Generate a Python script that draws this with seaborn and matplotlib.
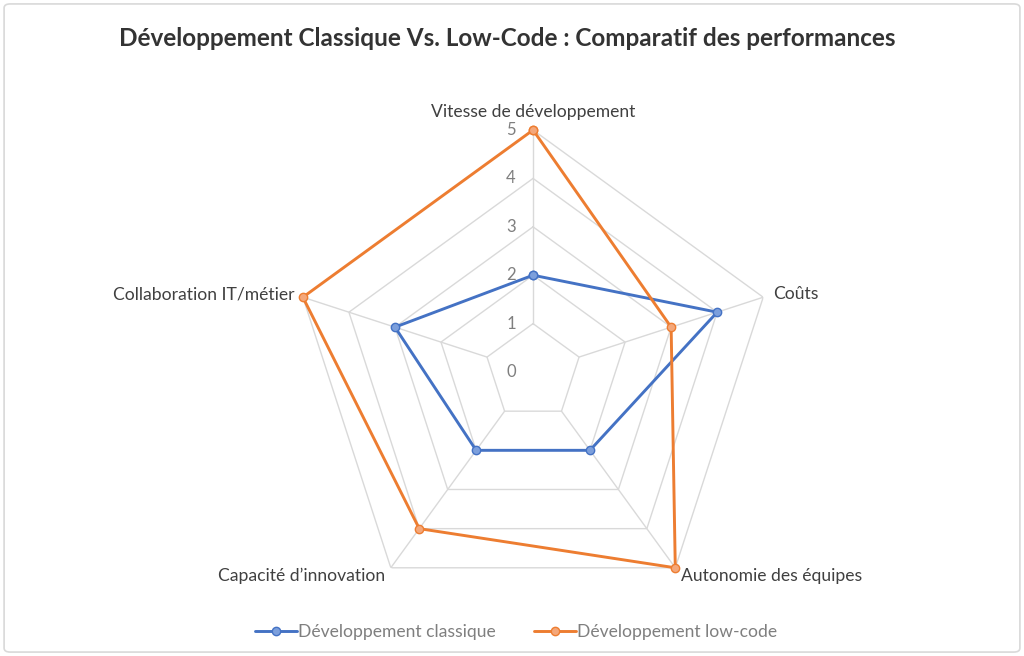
import numpy as np
import pandas as pd
import matplotlib.pyplot as plt
import matplotlib.transforms as mtransforms
from matplotlib.patches import FancyBboxPatch
import seaborn as sns

# données
criteres = ['Vitesse de développement', 'Coûts', 'Autonomie des équipes',
            "Capacité d’innovation", 'Collaboration IT/métier']
classique = [2, 4, 2, 2, 3]
low_code = [5, 3, 5, 4, 5]
series = ['Développement classique', 'Développement low-code']
graduations = [0, 1, 2, 3, 4, 5]

couleurs = {'Développement classique': '#4472C4', 'Développement low-code': '#ED7D31'}
remplissage = {'Développement classique': '#7C9FDC', 'Développement low-code': '#F4A77A'}

sns.set_theme(style='white')
plt.rcParams['font.family'] = ['Lato', 'DejaVu Sans']

n = len(criteres)
angles = np.linspace(0, 2 * np.pi, n, endpoint=False)

# table longue, boucle fermée
lignes = []
for nom, vals in zip(series, [classique, low_code]):
    for i in range(n):
        lignes.append({'serie': nom, 'angle': angles[i], 'valeur': vals[i]})
    lignes.append({'serie': nom, 'angle': 2 * np.pi, 'valeur': vals[0]})
df = pd.DataFrame(lignes)

fig = plt.figure(figsize=(10.24, 6.56), dpi=100)
fig.patch.set_facecolor('white')
ax = fig.add_axes([0.2842, 0.064, 0.4727, 0.7378], projection='polar')
ax.set_theta_offset(np.pi / 2)
ax.set_theta_direction(-1)
ax.set_ylim(0, 5)
ax.grid(False)
ax.spines['polar'].set_visible(False)
ax.set_xticks([])
ax.set_yticks([])
ax.set_facecolor('none')

# grille pentagonale
for g in graduations[1:]:
    ax.plot(list(angles) + [2 * np.pi], [g] * (n + 1), color='#D9D9D9', lw=1, zorder=1)
for a in angles:
    ax.plot([a, a], [1, 5], color='#D9D9D9', lw=1, zorder=1)

for nom in series:
    d = df[df['serie'] == nom]
    sns.lineplot(data=d, x='angle', y='valeur', sort=False, ax=ax, color=couleurs[nom],
                 lw=2.1, marker='o', markersize=6, markerfacecolor=remplissage[nom],
                 markeredgecolor=couleurs[nom], markeredgewidth=1, label=nom, zorder=3,
                 clip_on=False)
ax.set_xlabel('')
ax.set_ylabel('')

# étiquettes des graduations
decal = mtransforms.offset_copy(ax.transData, fig=fig, x=-22, y=0, units='dots')
for g in graduations:
    ax.text(0, g, str(g), transform=decal, ha='center', va='center',
            fontsize=12, color='#7F7F7F', zorder=2)

# étiquettes des critères
pos = [(0, 10, 'center', 'bottom'), (10, 3, 'left', 'center'), (6, -8, 'left', 'center'),
       (-6, -8, 'right', 'center'), (-8, 3, 'right', 'center')]
for a, lab, (dx, dy, ha, va) in zip(angles, criteres, pos):
    tr = mtransforms.offset_copy(ax.transData, fig=fig, x=dx, y=dy, units='dots')
    ax.text(a, 5, lab, transform=tr, ha=ha, va=va, fontsize=12.6, color='#404040')

leg = ax.legend(loc='center', bbox_to_anchor=(0.504, 1 - 632 / 656), bbox_transform=fig.transFigure,
                ncol=2, frameon=False, fontsize=12.6, handlelength=2.4, handletextpad=0.1,
                columnspacing=2.15)
for t in leg.get_texts():
    t.set_color('#7F7F7F')

fig.text(0.495, 1 - 38 / 656, 'Développement Classique Vs. Low-Code : Comparatif des performances',
         ha='center', va='center', fontsize=17.5, fontweight='bold', color='#333333')

cadre = FancyBboxPatch((0.004, 0.006), 0.992, 0.988, boxstyle='round,pad=0,rounding_size=0.006',
                       transform=fig.transFigure, fill=False, ec='#D9D9D9', lw=1.2)
fig.patches.append(cadre)

fig.savefig('out.png', dpi=100, facecolor='white')
